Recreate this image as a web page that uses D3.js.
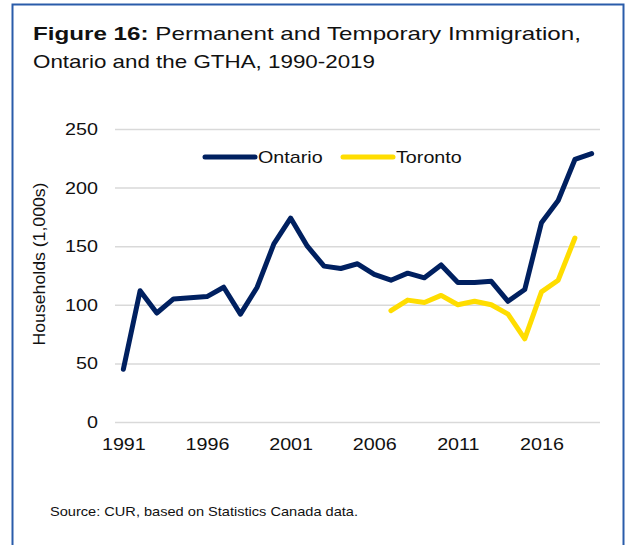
<!DOCTYPE html>
<html lang="en">
<head>
    <meta charset="UTF-8">
    <title>Figure 16</title>
    <style>
        html, body { margin: 0; padding: 0; background: #fff; }
        svg { display: block; font-family: "Liberation Sans", Arial, sans-serif; }
    </style>
</head>
<body>
    <svg id="chart" width="631" height="545"></svg>

    <script src="https://d3js.org/d3.v7.min.js"></script>
    <script>
        // Données
        var years = d3.range(1991, 2020);
        var ontario = [45, 112, 93, 105, 106, 107, 115, 92, 115, 152, 174, 150, 133, 131, 135, 126, 121, 127, 123, 134, 119, 119, 120, 103, 113, 170, 189, 224, 229];
        var torontoYears = d3.range(2007, 2019);
        var toronto = [95, 104, 102, 108, 100, 103, 100, 92, 71, 111, 121, 157];
        var yTicks = [0, 50, 100, 150, 200, 250];
        var xTicks = [1991, 1996, 2001, 2006, 2011, 2016];

        var svg = d3.select('#chart');
        var stretchK = 1.16; // le texte de l'original est un peu étiré en largeur

        // étire un texte horizontalement
        function stretch(sel, k) {
            sel.each(function() {
                var len = this.getComputedTextLength();
                d3.select(this).attr('textLength', len * k).attr('lengthAdjust', 'spacingAndGlyphs');
            });
        }

        // Cadre bleu
        svg.append('rect')
            .attr('x', 12.5).attr('y', 4.5)
            .attr('width', 611).attr('height', 560)
            .attr('fill', 'none')
            .attr('stroke', '#2a5caa')
            .attr('stroke-width', 2);

        // Titre
        var title = svg.append('text').attr('x', 33).attr('y', 40)
            .attr('font-size', 19).attr('fill', '#111')
            .attr('textLength', 548).attr('lengthAdjust', 'spacingAndGlyphs');
        title.append('tspan').attr('font-weight', 'bold').text('Figure 16:');
        title.append('tspan').text(' Permanent and Temporary Immigration,');
        svg.append('text').attr('x', 33).attr('y', 68)
            .attr('font-size', 19).attr('fill', '#111')
            .attr('textLength', 342).attr('lengthAdjust', 'spacingAndGlyphs')
            .text('Ontario and the GTHA, 1990-2019');

        // Echelles
        var plotLeft = 115, plotRight = 600, plotTop = 129, plotBottom = 422;
        var x = d3.scalePoint().domain(years).range([plotLeft, plotRight]).padding(0.5);
        var y = d3.scaleLinear().domain([0, 250]).range([plotBottom, plotTop]);

        // Grille
        var grid = svg.append('g')
            .attr('transform', 'translate(' + plotLeft + ',0)')
            .call(d3.axisLeft(y).tickValues(yTicks).tickSize(-(plotRight - plotLeft)).tickFormat(''));
        grid.select('.domain').remove();
        grid.selectAll('line').attr('stroke', '#d9d9d9').attr('stroke-width', 1.5);

        // Axe Y
        var yAxis = svg.append('g')
            .attr('transform', 'translate(' + (plotLeft - 17) + ',0)')
            .call(d3.axisLeft(y).tickValues(yTicks).tickSize(0).tickPadding(0));
        yAxis.select('.domain').remove();
        yAxis.selectAll('text').attr('font-size', 17).attr('fill', '#111')
            .attr('font-family', '"Liberation Sans", Arial, sans-serif')
            .call(stretch, stretchK);

        // Axe X
        var xAxis = svg.append('g')
            .attr('transform', 'translate(0,' + (plotBottom + 16) + ')')
            .call(d3.axisBottom(x).tickValues(xTicks).tickSize(0).tickPadding(0));
        xAxis.select('.domain').remove();
        xAxis.selectAll('text').attr('font-size', 17).attr('fill', '#111')
            .attr('font-family', '"Liberation Sans", Arial, sans-serif')
            .call(stretch, stretchK);

        // Titre de l'axe Y
        svg.append('text')
            .attr('transform', 'translate(45,264) rotate(-90)')
            .attr('text-anchor', 'middle')
            .attr('font-size', 17).attr('fill', '#111')
            .attr('textLength', 163).attr('lengthAdjust', 'spacingAndGlyphs')
            .text('Households (1,000s)');

        // Lignes
        var line = d3.line()
            .x(function(d) { return x(d[0]); })
            .y(function(d) { return y(d[1]); });

        svg.append('path')
            .datum(d3.zip(years, ontario))
            .attr('d', line)
            .attr('fill', 'none')
            .attr('stroke', '#002060')
            .attr('stroke-width', 5)
            .attr('stroke-linejoin', 'round')
            .attr('stroke-linecap', 'round');

        svg.append('path')
            .datum(d3.zip(torontoYears, toronto))
            .attr('d', line)
            .attr('fill', 'none')
            .attr('stroke', '#ffdd00')
            .attr('stroke-width', 5)
            .attr('stroke-linejoin', 'round')
            .attr('stroke-linecap', 'round');

        // Légende
        var legend = [
            { name: 'Ontario', color: '#002060', x: 205 },
            { name: 'Toronto', color: '#ffdd00', x: 343 }
        ];
        legend.forEach(function(l) {
            svg.append('line')
                .attr('x1', l.x).attr('x2', l.x + 50)
                .attr('y1', 157).attr('y2', 157)
                .attr('stroke', l.color).attr('stroke-width', 5)
                .attr('stroke-linecap', 'round');
            svg.append('text')
                .attr('x', l.x + 53).attr('y', 163)
                .attr('font-size', 17).attr('fill', '#111')
                .text(l.name)
                .call(stretch, stretchK);
        });

        // Source
        svg.append('text')
            .attr('x', 50).attr('y', 516)
            .attr('font-size', 13).attr('fill', '#111')
            .attr('textLength', 308).attr('lengthAdjust', 'spacingAndGlyphs')
            .text('Source: CUR, based on Statistics Canada data.');
    </script>
</body>
</html>
